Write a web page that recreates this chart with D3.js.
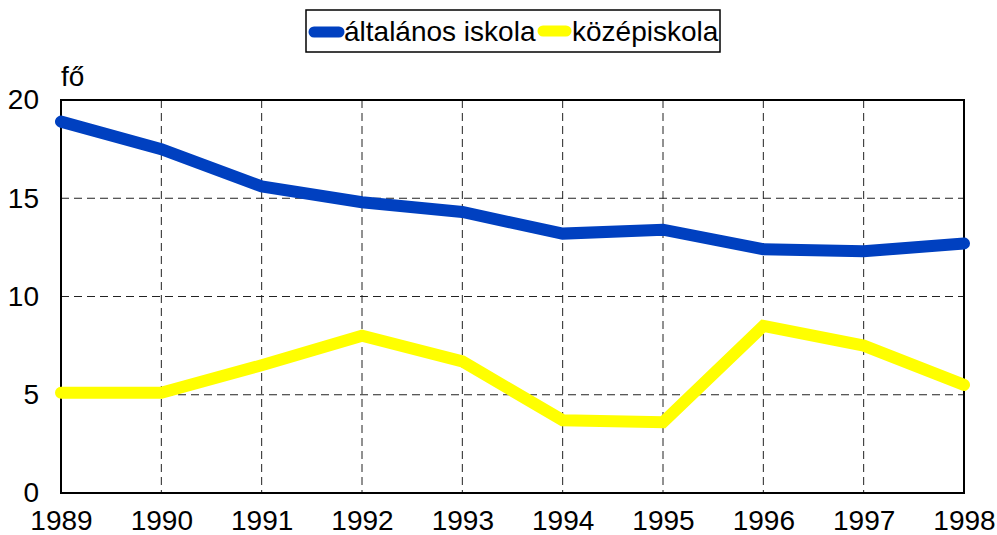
<!DOCTYPE html>
<html>
<head>
<meta charset="utf-8">
<script src="https://cdn.jsdelivr.net/npm/d3@7"></script>
<style>
  body { margin: 0; background: #fff; }
  text { font-family: "Liberation Sans", Arial, sans-serif; fill: #000; }
</style>
</head>
<body>
<svg id="chart" width="997" height="535"></svg>
<script>
var years = [1989, 1990, 1991, 1992, 1993, 1994, 1995, 1996, 1997, 1998];
var altalanos = [18.9, 17.5, 15.6, 14.8, 14.3, 13.2, 13.4, 12.4, 12.3, 12.7];
var kozep = [5.1, 5.1, 6.5, 8.0, 6.7, 3.7, 3.6, 8.5, 7.5, 5.5];
var yTicks = [0, 5, 10, 15, 20];
var seriesNames = ["általános iskola", "középiskola"];
var seriesColors = ["#0040c0", "#ffff00"];

var margin = {top: 100, right: 33, bottom: 42, left: 61},
    width = 997 - margin.left - margin.right,
    height = 535 - margin.top - margin.bottom;

var svg = d3.select("#chart");
var g = svg.append("g")
    .attr("transform", "translate(" + margin.left + "," + margin.top + ")");

var x = d3.scaleLinear().domain([years[0], years[years.length - 1]]).range([0, width]);
var y = d3.scaleLinear().domain([0, 20]).range([height, 0]);

// dashed grid
g.append("g").selectAll("line.vg")
    .data(years.slice(1, -1))
    .enter().append("line")
    .attr("x1", function(d) { return x(d); })
    .attr("x2", function(d) { return x(d); })
    .attr("y1", 0).attr("y2", height)
    .attr("stroke", "#222").attr("stroke-width", 1).attr("stroke-dasharray", "8,5");

g.append("g").selectAll("line.hg")
    .data(yTicks.slice(1, -1))
    .enter().append("line")
    .attr("x1", 0).attr("x2", width)
    .attr("y1", function(d) { return y(d); })
    .attr("y2", function(d) { return y(d); })
    .attr("stroke", "#222").attr("stroke-width", 1).attr("stroke-dasharray", "8,5");

// plot border
g.append("rect")
    .attr("width", width).attr("height", height)
    .attr("fill", "none").attr("stroke", "#000").attr("stroke-width", 2);

// axes
var yAxis = d3.axisLeft(y).tickValues(yTicks).tickSize(0).tickPadding(22);
g.append("g").call(yAxis)
    .call(function(s) { s.select(".domain").remove(); })
    .selectAll("text").style("font-size", "28px").attr("fill", "#000");

var xAxis = d3.axisBottom(x).tickValues(years).tickFormat(d3.format("d")).tickSize(0).tickPadding(17);
g.append("g").attr("transform", "translate(0," + height + ")").call(xAxis)
    .call(function(s) { s.select(".domain").remove(); })
    .selectAll("text").style("font-size", "28px").attr("fill", "#000");

svg.append("text")
    .attr("x", 61).attr("y", 86)
    .style("font-size", "28px")
    .text("fő");

// lines
var line = d3.line()
    .x(function(d, i) { return x(years[i]); })
    .y(function(d) { return y(d); });

[altalanos, kozep].forEach(function(vals, i) {
    g.append("path")
        .datum(vals)
        .attr("d", line)
        .attr("fill", "none")
        .attr("stroke", seriesColors[i])
        .attr("stroke-width", 12)
        .attr("stroke-linecap", "round")
        .attr("stroke-linejoin", "miter");
});

// legend
var legend = svg.append("g");
legend.append("rect")
    .attr("x", 306).attr("y", 10).attr("width", 414).attr("height", 42)
    .attr("fill", "#fff").attr("stroke", "#000").attr("stroke-width", 1.5);

var legendItems = [
    {x1: 314, x2: 339, tx: 344, ly: 32},
    {x1: 543, x2: 566, tx: 572, ly: 31}
];
legendItems.forEach(function(p, i) {
    legend.append("line")
        .attr("x1", p.x1).attr("x2", p.x2).attr("y1", p.ly).attr("y2", p.ly)
        .attr("stroke", seriesColors[i]).attr("stroke-width", 11)
        .attr("stroke-linecap", "round");
    legend.append("text")
        .attr("x", p.tx).attr("y", 41)
        .style("font-size", "28px")
        .text(seriesNames[i]);
});
</script>
</body>
</html>
